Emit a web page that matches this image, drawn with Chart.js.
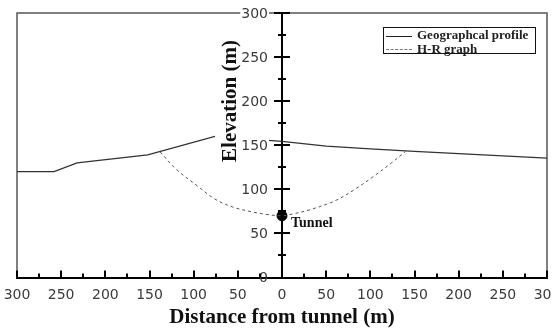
<!DOCTYPE html>
<html>
<head>
<meta charset="utf-8">
<script src="https://cdn.jsdelivr.net/npm/chart.js@4.4.1/dist/chart.umd.min.js"></script>
<style>
  html, body { margin: 0; padding: 0; background: #fff; overflow: hidden; }
  #wrap { position: relative; width: 566px; height: 330px; }
  #legend { position: absolute; left: 383px; top: 27px; width: 151px; height: 25px; border: 1px solid #111; background: #fff; font: bold 13px "Liberation Serif", serif; color: #222; }
  .row { position: absolute; left: 2px; height: 14px; line-height: 14px; white-space: nowrap; }
  .sample { display: inline-block; width: 26px; height: 0; vertical-align: middle; margin-right: 5px; }
</style>
</head>
<body>
<div id="wrap"><canvas id="c"></canvas><div id="legend"></div></div>
<script>
// ground surface along the section
const profileX = [-300, -258, -232, -152, -76, 0, 50, 100, 150, 200, 250, 300];
const profileY = [120, 120, 130, 139, 160, 154.5, 149, 146, 143, 140.5, 138, 135.5];
// H-R curve
const hrX = [-138, -120, -96, -76, -56, -32, -17, 0, 12, 32, 60, 84, 104, 124, 140];
const hrY = [142.5, 123, 104, 89, 80, 74, 71.5, 70, 72, 77, 87, 101, 115, 130, 143];
const tunnelX = [0], tunnelY = [70];
const seriesNames = ['Geographcal profile', 'H-R graph'];
const xTitle = 'Distance from tunnel (m)', yTitle = 'Elevation (m)', tunnelLabel = 'Tunnel';

const SERIF = '"Liberation Serif", serif';
const SANS = '"DejaVu Sans", sans-serif';
const TICK_COLOR = '#3a3a3a';

const pts = (xs, ys) => xs.map((x, i) => ({x, y: ys[i]}));

const extras = {
  id: 'extras',
  beforeDatasetsDraw(chart) {
    const {ctx, chartArea: a} = chart;
    ctx.save();
    ctx.strokeStyle = '#555';
    ctx.lineWidth = 1.5;
    ctx.beginPath();
    ctx.moveTo(a.left, a.bottom); ctx.lineTo(a.left, a.top);
    ctx.lineTo(a.right, a.top); ctx.lineTo(a.right, a.bottom);
    ctx.stroke();
    ctx.restore();
  },
  afterDatasetsDraw(chart) {
    const {ctx, scales: {x, y}} = chart;
    const dot = chart.getDatasetMeta(2).data[0];
    ctx.save();
    ctx.fillStyle = '#111';
    ctx.font = 'bold 14px ' + SERIF;
    ctx.textBaseline = 'middle';
    ctx.fillText(tunnelLabel, dot.x + 9, dot.y + 8);

    // y title sits on a white patch that hides the line behind it
    ctx.save();
    ctx.fillStyle = '#fff';
    ctx.fillRect(215, 36, 31, 132);
    ctx.translate(231, 101);
    ctx.rotate(-Math.PI / 2);
    ctx.fillStyle = '#111';
    ctx.font = 'bold 21px ' + SERIF;
    ctx.textAlign = 'center';
    ctx.fillText(yTitle, 0, 0);
    ctx.restore();

    // y tick labels sit left of the centre axis, on white
    const x0 = x.getPixelForValue(0);
    ctx.font = '14px ' + SANS;
    ctx.textAlign = 'right';
    ctx.textBaseline = 'middle';
    y.ticks.forEach(t => {
      const p = y.getPixelForValue(t.value), s = String(t.value);
      const w = ctx.measureText(s).width;
      if (t.value > 0) {
        ctx.fillStyle = '#fff';
        ctx.fillRect(x0 - 14 - w - 1, p - 8, w + 2, 16);
      }
      ctx.fillStyle = TICK_COLOR;
      ctx.fillText(s, x0 - 14, p + 1);
    });
    ctx.restore();
  },
  afterDraw(chart) {
    const {ctx, scales: {x, y}} = chart;
    const x0 = x.getPixelForValue(0), yb = y.getPixelForValue(0);
    ctx.save();
    ctx.strokeStyle = '#000';
    ctx.lineWidth = 2;
    ctx.beginPath();
    for (let v = 0; v <= 300; v += 25) {
      const p = Math.round(y.getPixelForValue(v)), l = v % 50 === 0 ? 8 : 4;
      ctx.moveTo(x0 - l, p); ctx.lineTo(x0 + l, p);
    }
    for (let v = -300; v <= 300; v += 25) {
      const p = Math.round(x.getPixelForValue(v)), l = v % 50 === 0 ? 7 : 4;
      ctx.moveTo(p, yb); ctx.lineTo(p, yb - l);
    }
    ctx.stroke();
    ctx.restore();
  }
};

new Chart(document.getElementById('c'), {
  type: 'scatter',
  data: {
    datasets: [
      {label: seriesNames[0], data: pts(profileX, profileY), showLine: true, borderColor: '#333', borderWidth: 1.3, pointRadius: 0},
      {label: seriesNames[1], data: pts(hrX, hrY), showLine: true, borderColor: '#555', borderWidth: 1, borderDash: [3, 3], pointRadius: 0, tension: 0.35},
      {label: tunnelLabel, data: pts(tunnelX, tunnelY), pointRadius: 5, pointBackgroundColor: '#000', pointBorderColor: '#000'}
    ]
  },
  options: {
    responsive: true,
    maintainAspectRatio: false,
    animation: false,
    layout: {padding: {left: 17, right: 19, top: 13, bottom: 0}},
    plugins: {legend: {display: false}, tooltip: {enabled: false}},
    scales: {
      x: {
        type: 'linear', min: -300, max: 300, z: 2,
        grid: {display: false, drawTicks: false},
        border: {display: true, color: '#000', width: 2},
        ticks: {stepSize: 50, padding: 9, color: TICK_COLOR, font: {family: SANS, size: 14}, callback: v => Math.abs(v)},
        title: {display: true, text: xTitle, color: '#111', font: {family: SERIF, size: 21, weight: 'bold'}, padding: {top: 0, bottom: 0}},
        afterFit(s) { s.height = 52.5; s.paddingLeft = 0; s.paddingRight = 0; }
      },
      y: {
        type: 'linear', min: 0, max: 300, position: {x: 0}, z: 1,
        grid: {display: false, drawTicks: false},
        border: {display: true, color: '#000', width: 2},
        ticks: {stepSize: 50, display: false}
      }
    }
  },
  plugins: [extras]
});

const leg = document.getElementById('legend');
seriesNames.forEach((name, i) => {
  const row = document.createElement('div');
  row.className = 'row';
  row.style.top = (i * 13.5) + 'px';
  const s = document.createElement('span');
  s.className = 'sample';
  s.style.borderTop = i === 0 ? '1.3px solid #222' : '1px dashed #777';
  row.appendChild(s);
  row.appendChild(document.createTextNode(name));
  leg.appendChild(row);
});
</script>
</body>
</html>
